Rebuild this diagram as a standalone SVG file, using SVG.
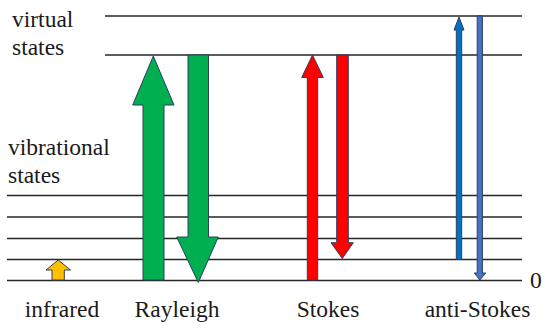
<svg xmlns="http://www.w3.org/2000/svg" width="550" height="333" viewBox="0 0 550 333">
<style>
.lvl{stroke:#262626;stroke-width:1.6;fill:none}
.lbl{font-family:'Liberation Serif','Times New Roman','Tinos','DejaVu Serif',serif;font-size:23.5px;fill:#1a1a1a}
.arr{stroke:#2e3e5c;stroke-width:1;stroke-linejoin:miter}
.green{fill:#00b050}
.red{fill:#ff0000}
.yellow{fill:#ffc000}
.blue1{fill:#0070c0}
.blue2{fill:#4472c4}
</style>
<rect width="550" height="333" fill="#ffffff"/>
<g id="levels">
<line class="lvl" x1="105" y1="16" x2="522" y2="16"/>
<line class="lvl" x1="105" y1="55" x2="522" y2="55"/>
<line class="lvl" x1="7" y1="195.5" x2="522" y2="195.5"/>
<line class="lvl" x1="7" y1="217" x2="522" y2="217"/>
<line class="lvl" x1="7" y1="238.5" x2="522" y2="238.5"/>
<line class="lvl" x1="7" y1="259.5" x2="522" y2="259.5"/>
<line class="lvl" x1="7" y1="280.5" x2="522" y2="280.5"/>
</g>
<g id="labels">
<text class="lbl" x="12" y="27" font-family="Liberation Serif, serif">virtual</text>
<text class="lbl" x="12" y="55" font-family="Liberation Serif, serif">states</text>
<text class="lbl" x="8" y="155" font-family="Liberation Serif, serif">vibrational</text>
<text class="lbl" x="8" y="183" font-family="Liberation Serif, serif">states</text>
<text class="lbl" x="62" y="317" text-anchor="middle" font-family="Liberation Serif, serif">infrared</text>
<text class="lbl" x="177" y="317" text-anchor="middle" font-family="Liberation Serif, serif">Rayleigh</text>
<text class="lbl" x="328" y="317" text-anchor="middle" font-family="Liberation Serif, serif">Stokes</text>
<text class="lbl" x="477.5" y="317" text-anchor="middle" font-family="Liberation Serif, serif">anti-Stokes</text>
<text class="lbl" x="530" y="288" font-family="Liberation Serif, serif">0</text>
</g>
<g id="connectors">
<g id="infrared-arrow">
<polygon class="arr yellow" points="52,280 52,270 46,270 58.2,260 70.5,270 64.3,270 64.3,280"/>
</g>
<g id="rayleigh-up">
<polygon class="arr green" points="143,280 143,105 132.7,105 153.3,56 174,105 164,105 164,280"/>
</g>
<g id="rayleigh-down">
<polygon class="arr green" points="188,55 208.5,55 208.5,237 218.3,237 198.3,282.5 176.7,237 188,237"/>
</g>
<g id="stokes-up">
<polygon class="arr red" points="307.3,280 307.3,77.5 301.7,77.5 312.5,55 323.3,77.5 317.7,77.5 317.7,280"/>
</g>
<g id="stokes-down">
<polygon class="arr red" points="336.7,55 348.3,55 348.3,242.7 353.3,242.7 342.3,258.5 331,242.7 336.7,242.7"/>
</g>
<g id="antistokes-up">
<polygon class="arr blue1" points="456.3,259.5 456.3,30 454,30 459,17 464,30 461.7,30 461.7,259.5"/>
</g>
<g id="antistokes-down">
<polygon class="arr blue2" points="477.2,16 482.4,16 482.4,273 485.7,273 479.8,280 474.3,273 477.2,273"/>
</g>
</g>
</svg>
